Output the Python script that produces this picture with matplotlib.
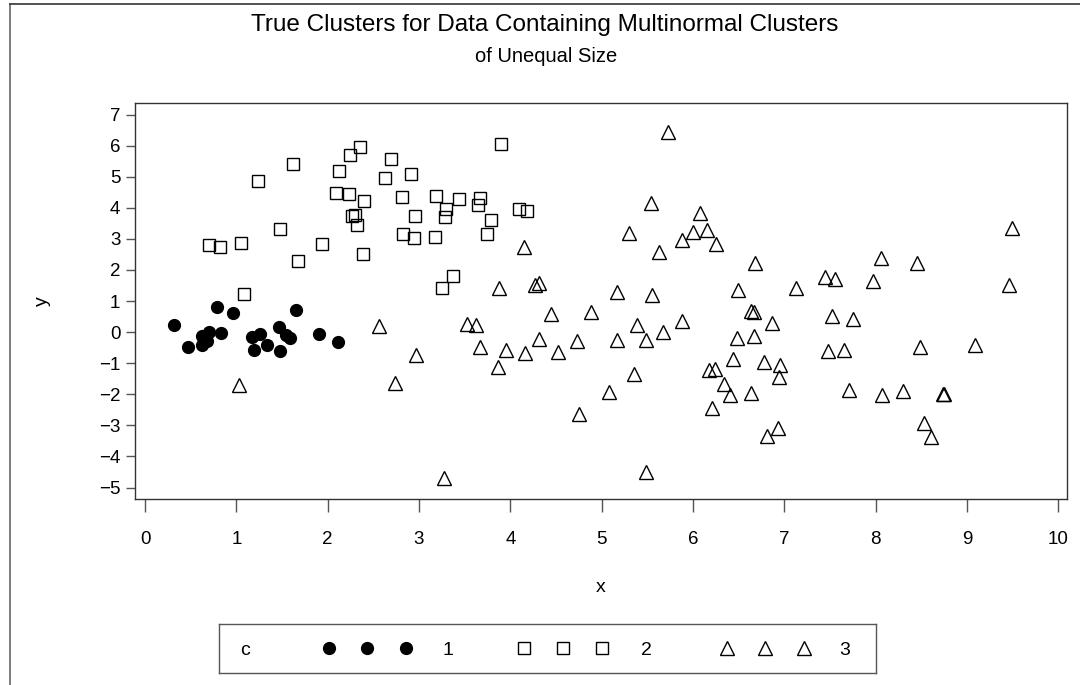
import matplotlib
matplotlib.use("Agg")
import matplotlib.pyplot as plt
from matplotlib.lines import Line2D

plt.rcParams['font.family'] = ['Liberation Sans', 'DejaVu Sans']

# cluster 1 (filled circles)
c1_x = [0.32, 0.47, 0.62, 0.70, 0.68, 0.62, 0.79, 0.83, 0.96, 1.17,
        1.26, 1.19, 1.34, 1.47, 1.48, 1.54, 1.59, 1.65, 1.90, 2.11]
c1_y = [0.22, -0.48, -0.14, 0.00, -0.30, -0.41, 0.81, -0.03, 0.61, -0.16,
        -0.05, -0.56, -0.41, 0.18, -0.61, -0.08, -0.18, 0.70, -0.05, -0.32]

# cluster 2 (open squares)
c2_x = [2.35, 2.24, 2.69, 1.62, 2.12, 2.63, 2.91, 1.24, 2.09, 2.23,
        2.40, 2.81, 3.19, 3.44, 3.30, 3.28, 2.27, 2.30, 2.32, 2.96,
        1.48, 2.82, 2.94, 3.18, 0.70, 0.82, 1.05, 1.94, 1.68, 2.39,
        3.37, 3.25, 1.08, 3.90, 3.67, 3.65, 3.79, 3.74, 4.09, 4.18]
c2_y = [5.97, 5.70, 5.56, 5.41, 5.18, 4.95, 5.10, 4.87, 4.47, 4.45,
        4.23, 4.34, 4.39, 4.27, 3.96, 3.69, 3.73, 3.77, 3.44, 3.75,
        3.31, 3.17, 3.04, 3.05, 2.80, 2.73, 2.87, 2.84, 2.29, 2.52,
        1.79, 1.43, 1.24, 6.04, 4.30, 4.09, 3.60, 3.17, 3.95, 3.90]

# cluster 3 (open triangles)
c3_x = [2.56, 2.97, 2.74, 1.03, 3.27, 5.73, 5.54, 6.08, 5.30, 5.88,
        6.00, 6.15, 6.25, 5.63, 4.15, 6.68, 3.88, 4.27, 4.31, 5.17,
        5.55, 6.49, 4.45, 4.88, 3.53, 3.62, 5.39, 5.88, 5.67, 6.64,
        6.67, 3.67, 3.95, 4.16, 4.31, 4.52, 4.73, 5.17, 5.48, 6.48,
        6.67, 6.44, 3.87, 5.35, 6.18, 6.24, 6.34, 6.40, 6.63, 5.08,
        6.21, 4.75, 5.48, 9.49, 8.06, 8.45, 7.45, 7.55, 7.97, 7.13,
        9.46, 6.86, 7.52, 7.75, 7.48, 7.65, 8.49, 9.09, 6.78, 6.95,
        6.94, 7.71, 8.07, 8.30, 8.74, 8.75, 6.93, 6.81, 8.53, 8.61]
c3_y = [0.19, -0.75, -1.63, -1.69, -4.68, 6.45, 4.16, 3.82, 3.19, 2.98,
        3.22, 3.30, 2.82, 2.57, 2.74, 2.21, 1.42, 1.53, 1.59, 1.29,
        1.21, 1.37, 0.59, 0.65, 0.27, 0.24, 0.22, 0.36, 0.02, 0.68,
        0.65, -0.48, -0.57, -0.68, -0.21, -0.65, -0.27, -0.25, -0.24, -0.18,
        -0.14, -0.86, -1.11, -1.34, -1.21, -1.18, -1.67, -2.01, -1.97, -1.94,
        -2.45, -2.63, -4.49, 3.35, 2.39, 2.23, 1.77, 1.71, 1.66, 1.42,
        1.53, 0.29, 0.52, 0.42, -0.62, -0.57, -0.48, -0.43, -0.95, -1.05,
        -1.45, -1.85, -2.02, -1.88, -1.99, -2.00, -3.07, -3.35, -2.92, -3.39]

x_ticks = list(range(0, 11))
y_ticks = list(range(-5, 8))
legend_labels = ['1', '2', '3']

W, H = 1080, 685
fig = plt.figure(figsize=(W / 100, H / 100), dpi=100)

# plot area in pixels: left 135, right 1067, top 103, bottom 499
ax = fig.add_axes([135 / W, 1 - 499 / H, (1067 - 135) / W, (499 - 103) / H])
ax.plot(c1_x, c1_y, 'o', ms=8.5, mfc='black', mec='black', mew=1)
ax.plot(c2_x, c2_y, 's', ms=9, mfc='none', mec='black', mew=1)
ax.plot(c3_x, c3_y, '^', ms=9.5, mfc='none', mec='black', mew=1)

ax.set_xlim(-0.11, 10.095)
ax.set_ylim(-5.37, 7.373)
ax.set_xticks(x_ticks)
ax.set_yticks(y_ticks)
ax.tick_params(axis='x', direction='out', length=9, width=1, color='#555555',
               labelsize=13.5, pad=14)
ax.tick_params(axis='y', direction='out', length=6.5, width=1, color='#555555',
               labelsize=13.5, pad=4)
for s in ax.spines.values():
    s.set_linewidth(1)
    s.set_color('#333333')

fig.text(601 / W, 1 - 588 / H, 'x', ha='center', va='center', fontsize=14)
fig.text(42 / W, 1 - 301 / H, 'y', ha='center', va='center', fontsize=14, rotation=90)

fig.text(545 / W, 1 - 25 / H, 'True Clusters for Data Containing Multinormal Clusters',
         ha='center', va='center', fontsize=17.5)
fig.text(546 / W, 1 - 57 / H, 'of Unequal Size', ha='center', va='center', fontsize=14.5)

# legend box
lg = fig.add_axes([219 / W, 1 - 673 / H, (876 - 219) / W, (673 - 624) / H])
lg.set_xlim(219, 876)
lg.set_ylim(0, 1)
lg.set_xticks([])
lg.set_yticks([])
for s in lg.spines.values():
    s.set_linewidth(1)
    s.set_color('#555555')
lg.text(244.6, 0.46, 'c', ha='center', va='center', fontsize=14)
styles = [dict(marker='o', ms=8.5, mfc='black'),
          dict(marker='s', ms=9, mfc='none'),
          dict(marker='^', ms=9.5, mfc='none')]
mark_x = [[328.6, 367, 406], [524, 563, 602], [727, 765, 804]]
lab_x = [447.7, 646, 844.5]
for st, mx, lx, lab in zip(styles, mark_x, lab_x, legend_labels):
    lg.plot(mx, [0.52] * 3, ls='none', mec='black', mew=1, **st)
    lg.text(lx, 0.46, lab, ha='center', va='center', fontsize=14)

# outer frame lines (left and top)
fig.add_artist(Line2D([9.5 / W, 9.5 / W], [0, 1 - 3.5 / H], transform=fig.transFigure,
                      color='#666666', lw=1.2))
fig.add_artist(Line2D([9.5 / W, 1], [1 - 3.5 / H, 1 - 3.5 / H], transform=fig.transFigure,
                      color='#333333', lw=1.2))

fig.savefig('out.png', dpi=100)
